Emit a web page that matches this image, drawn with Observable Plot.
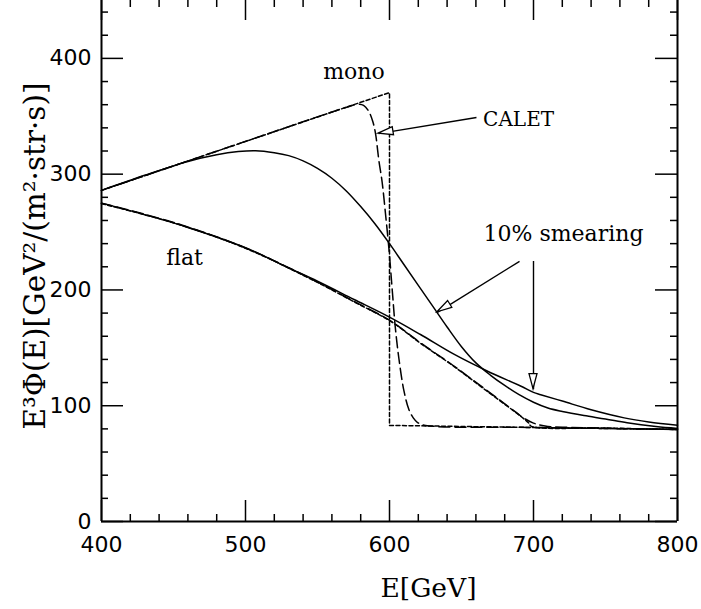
<!DOCTYPE html>
<html><head><meta charset="utf-8">
<script src="https://cdn.jsdelivr.net/npm/d3@7"></script>
<script src="https://cdn.jsdelivr.net/npm/@observablehq/plot@0.6"></script>
<style>body{margin:0;background:#fff}</style>
</head><body><div id="chart"></div>
<script>
// ---- axis ticks ----
const xMajor = [400, 500, 600, 700, 800];
const yMajor = [0, 100, 200, 300, 400];
const xMinor = d3.range(420, 800, 20).filter(v => v % 100 !== 0);
const yMinor = d3.range(20, 450, 20).filter(v => v % 100 !== 0);

// ---- curves: [E (GeV), E^3 Phi] ----
const monoTrue = [[400,286],[600,370.5],[600,83],[700,81.2],[800,79.5]];
const monoCalet = [[400,286],[500,328.3],[560,353.7],[572,358.5],[578,360.5],[582,359.5],[585.5,354.5],
  [588.4,345.5],[590.3,335],[592.6,312],[594.9,293],[597.2,266],[599.5,237],[601.9,200],[604,168],
  [606.5,141],[610,113],[613.4,97],[616.5,89.5],[619.5,85.5],[625,83],[700,81.2],[800,79.5]];
const monoSmear = [[400,286],[430,299],[460,311],[480,316.8],[495,319.5],[507,320.2],[520,318.5],
  [530,316],[540,311.5],[550,305],[560,296.5],[570,285.5],[580,272],[590,257],[600,240],[610,222],
  [620,204],[630,186],[640,168],[650,151],[660,137],[670,126.5],[680,117.5],[690,109.5],[700,103],
  [710,98],[720,95],[735,91.5],[750,88.5],[765,85.2],[785,82],[800,80.4]];
const flatTrue = [[400,274.5],[450,258],[500,236],[550,206.5],[575,190],[600.7,173],[621.5,154],
  [644.7,134],[667.8,112.5],[691,91],[696.7,85],[698.5,82.2],[750,80.7],[800,79.5]];
const flatCalet = [[400,275],[450,258.3],[500,236.3],[550,206.8],[575,190.3],[600.7,173.3],[621.5,154.3],
  [644.7,134.3],[667.8,113],[685,97],[693,89.5],[700,85],[708,82.5],[720,81.5],[800,79.5]];
const flatSmear = [[400,275],[430,265],[460,254],[500,236.5],[530,219],[550,207.5],[575,192],
  [600,176.5],[621.5,161.5],[644.7,144.5],[667.8,130],[691,117],[700,111.5],[705,109.5],[720,104],
  [740,96.5],[763,89.5],[780,86],[800,83.2]];

// ---- annotations ----
const labelText = ["mono", "10% smearing", "flat"];
const labelE = [554, 665.3, 445];
const labelV = [382, 242, 221.8];
const caletText = ["CALET"];
const caletE = [665];
const caletV = [342];
const arrowFrom = [[660.4, 348.9], [690.3, 224.7], [700, 225]];
const arrowTo = [[592.4, 335], [633.3, 180.7], [700, 114.3]];

const rows = pts => pts.map(([E, v]) => ({E, v}));
const labels = labelText.map((t, i) => ({t, E: labelE[i], v: labelV[i]}));
const calet = caletText.map((t, i) => ({t, E: caletE[i], v: caletV[i]}));
const arrows = arrowFrom.map((f, i) => ({x1: f[0], y1: f[1], x2: arrowTo[i][0], y2: arrowTo[i][1]}));

const W = 701, H = 609, mL = 101, mR = 24, mT = 0, mB = 88;
const FW = W - mL - mR, FH = H - mT - mB;
const lw = 1.5;
const dotted = "4,2.5", dashed = "11,5";

const chart = Plot.plot({
  width: W, height: H,
  marginLeft: mL, marginRight: mR, marginTop: mT, marginBottom: mB,
  x: {domain: [400, 800]},
  y: {domain: [0, 450]},
  style: {background: "#fff", color: "#000", fontFamily: "DejaVu Sans"},
  marks: [
    // curves
    Plot.line(rows(monoTrue), {x: "E", y: "v", strokeWidth: lw, strokeDasharray: dotted}),
    Plot.line(rows(monoCalet), {x: "E", y: "v", strokeWidth: lw, strokeDasharray: dashed, curve: "catmull-rom"}),
    Plot.line(rows(monoSmear), {x: "E", y: "v", strokeWidth: lw, curve: "catmull-rom"}),
    Plot.line(rows(flatTrue), {x: "E", y: "v", strokeWidth: lw, strokeDasharray: dotted, curve: "catmull-rom"}),
    Plot.line(rows(flatCalet), {x: "E", y: "v", strokeWidth: lw, strokeDasharray: dashed, curve: "catmull-rom"}),
    Plot.line(rows(flatSmear), {x: "E", y: "v", strokeWidth: lw, curve: "catmull-rom"}),
    // frame
    Plot.ruleX([400], {strokeWidth: 2}),
    Plot.ruleX([800], {strokeWidth: 2}),
    Plot.ruleY([0], {strokeWidth: 2}),
    // inward ticks
    Plot.tickX(xMajor, {x: d => d, insetTop: FH - 21, strokeWidth: 1.5}),
    Plot.tickX(xMinor, {x: d => d, insetTop: FH - 7, strokeWidth: 1.5}),
    Plot.tickX(xMajor, {x: d => d, insetBottom: FH - 20, strokeWidth: 1.5}),
    Plot.tickX(xMinor, {x: d => d, insetBottom: FH - 7, strokeWidth: 1.5}),
    Plot.tickY(yMajor, {y: d => d, insetRight: FW - 22, strokeWidth: 1.5}),
    Plot.tickY(yMinor, {y: d => d, insetRight: FW - 7, strokeWidth: 1.5}),
    Plot.tickY(yMajor, {y: d => d, insetLeft: FW - 22, strokeWidth: 1.5}),
    Plot.tickY(yMinor, {y: d => d, insetLeft: FW - 7, strokeWidth: 1.5}),
    // tick labels
    Plot.axisX(xMajor, {tickSize: 0, tickPadding: 15, fontSize: 22, fontFamily: "DejaVu Sans", label: null}),
    Plot.axisY(yMajor, {tickSize: 0, tickPadding: 10, fontSize: 22, fontFamily: "DejaVu Sans", label: null}),
    // axis titles
    Plot.text(["E[GeV]"], {frameAnchor: "bottom", text: d => d, dx: 39, dy: 75, lineAnchor: "bottom",
      fontSize: 26.5, fontFamily: "DejaVu Serif"}),
    Plot.text(["E³Φ(E)[GeV²/(m²·str·s)]"], {frameAnchor: "left", text: d => d, rotate: -90,
      textAnchor: "middle", dx: -57, dy: -5, lineAnchor: "bottom", fontSize: 29.5, fontFamily: "DejaVu Serif"}),
    // arrow shafts
    Plot.link(arrows, {x1: "x1", y1: "y1", x2: "x2", y2: "y2", strokeWidth: 1.4}),
    // labels
    Plot.text(labels, {x: "E", y: "v", text: "t", textAnchor: "start", lineAnchor: "bottom",
      fontSize: 22, fontFamily: "DejaVu Serif"}),
    Plot.text(calet, {x: "E", y: "v", text: "t", textAnchor: "start", lineAnchor: "bottom",
      fontSize: 20, fontFamily: "DejaVu Serif"})
  ]
});

// open triangular arrow heads, positioned through the plot's scales
const sx = chart.scale("x"), sy = chart.scale("y");
const svg = d3.select(chart);
for (const a of arrows) {
  const X1 = sx.apply(a.x1), Y1 = sy.apply(a.y1), X2 = sx.apply(a.x2), Y2 = sy.apply(a.y2);
  const ang = Math.atan2(Y2 - Y1, X2 - X1);
  const L = 15, w = 4;
  const bx = X2 - L * Math.cos(ang), by = Y2 - L * Math.sin(ang);
  const px = -Math.sin(ang) * w, py = Math.cos(ang) * w;
  svg.append("polygon")
    .attr("points", `${X2},${Y2} ${bx + px},${by + py} ${bx - px},${by - py}`)
    .attr("fill", "#fff").attr("stroke", "#000").attr("stroke-width", 1.3);
}
document.getElementById("chart").appendChild(chart);
</script>
</body></html>
